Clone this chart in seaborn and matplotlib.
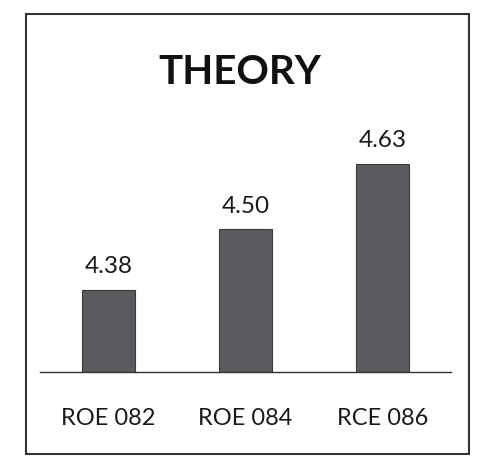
import pandas as pd
import seaborn as sns
import matplotlib.pyplot as plt
from matplotlib.patches import Rectangle

# Chart data
subjects = ['ROE 082', 'ROE 084', 'RCE 086']
scores = [4.38, 4.50, 4.63]
score_labels = ['4.38', '4.50', '4.63']

df = pd.DataFrame({'Subject': subjects, 'Score': scores})

sns.set_style('white')
plt.rcParams['font.family'] = ['Lato', 'DejaVu Sans']

fig = plt.figure(figsize=(4.79, 4.68), dpi=100)
ax = fig.add_axes([0.084, 0.205, 0.857, 0.515])

sns.barplot(data=df, x='Subject', y='Score', color='#5b5a5e', width=0.39,
            edgecolor='#3a3a3a', linewidth=0.8, saturation=1, ax=ax)

# Value labels above bars
for i, (v, lab) in enumerate(zip(scores, score_labels)):
    ax.text(i, v + 0.025, lab, ha='center', va='bottom', fontsize=17.5, color='#1a1a1a')

ax.set_ylim(4.217, 4.695)
ax.set_xlim(-0.5, 2.5)
ax.set_xlabel('')
ax.set_ylabel('')
ax.set_yticks([])
ax.tick_params(axis='x', length=0, labelsize=17, pad=26, colors='#1a1a1a')
for s in ['top', 'right', 'left']:
    ax.spines[s].set_visible(False)
ax.spines['bottom'].set_color('#333333')
ax.spines['bottom'].set_linewidth(1.0)

fig.text(0.5, 0.846, 'THEORY', ha='center', va='center', fontsize=29,
         fontweight='bold', color='#111111')

# Outer chart frame
fig.patches.append(Rectangle((0.055, 0.03), 0.925, 0.94, transform=fig.transFigure,
                             fill=False, edgecolor='#333333', linewidth=1.5))

fig.savefig('out.png', dpi=100)
